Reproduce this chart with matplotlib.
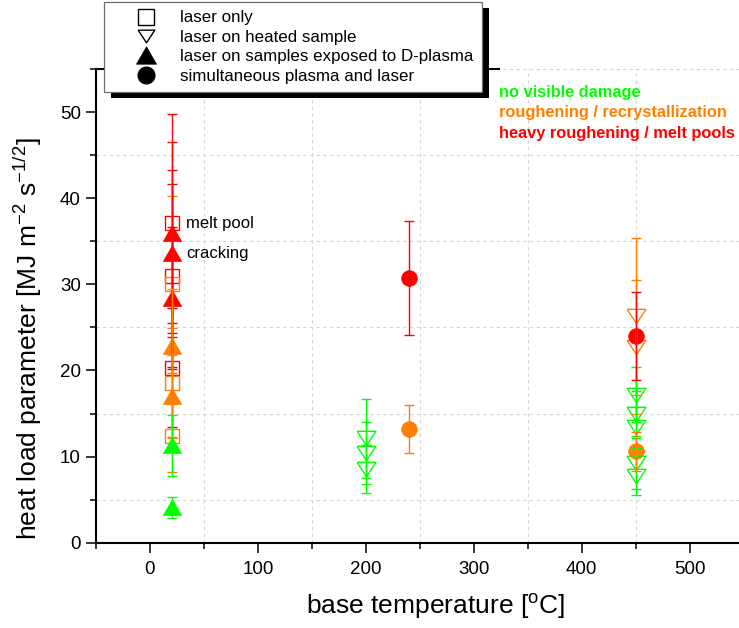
import matplotlib
matplotlib.use("Agg")
import matplotlib.pyplot as plt
from matplotlib.lines import Line2D
from matplotlib.patches import Rectangle
from matplotlib.ticker import MultipleLocator

plt.rcParams['font.family'] = ['Liberation Sans', 'DejaVu Sans']
plt.rcParams['mathtext.fontset'] = 'custom'
plt.rcParams['mathtext.rm'] = 'Liberation Sans'
plt.rcParams['mathtext.it'] = 'Liberation Sans:italic'
plt.rcParams['mathtext.default'] = 'regular'

# damage class -> colour
DAMAGE_COLORS = {'none': '#00ff00', 'rough': '#ff8000', 'heavy': '#ff0000'}
DAMAGE_LABELS = ['no visible damage', 'roughening / recrystallization',
                 'heavy roughening / melt pools']

# laser only
laser_T = [20, 20, 20, 20, 20, 20]
laser_load = [37.1, 31.0, 30.0, 20.3, 18.6, 12.4]
laser_err = [12.7, 10.6, 10.3, 6.9, 6.3, 4.2]
laser_cls = ['heavy', 'heavy', 'rough', 'heavy', 'rough', 'rough']

# laser on heated sample
heated_T = [200, 200, 200, 450, 450, 450, 450, 450, 450, 450]
heated_load = [12.1, 10.4, 8.6, 26.3, 22.7, 17.2, 15.0, 13.4, 9.2, 7.8]
heated_err = [4.6, 3.6, 2.8, 9.1, 7.8, 3.2, 2.6, 2.4, 3.0, 2.3]
heated_cls = ['none', 'none', 'none', 'rough', 'rough',
              'none', 'none', 'none', 'none', 'none']

# laser on samples exposed to D-plasma
plasma_T = [20, 20, 20, 20, 20, 20, 20]
plasma_load = [36.0, 33.6, 28.4, 22.8, 17.0, 11.3, 4.1]
plasma_err = [10.5, 9.7, 8.2, 6.7, 4.8, 3.5, 1.2]
plasma_cls = ['heavy', 'heavy', 'heavy', 'rough', 'rough', 'none', 'none']

# simultaneous plasma and laser
simul_T = [240, 240, 450, 450]
simul_load = [30.7, 13.2, 24.0, 10.6]
simul_err = [6.6, 2.75, 5.1, 2.3]
simul_cls = ['heavy', 'rough', 'heavy', 'rough']

# annotations next to individual points
notes = [('melt pool', 20, 37.1), ('cracking', 20, 33.6)]

LEGEND_LABELS = ['laser only', 'laser on heated sample',
                 'laser on samples exposed to D-plasma',
                 'simultaneous plasma and laser']

# wide, flat triangles
UP_TRI = [(-1, -0.87), (1, -0.87), (0, 0.87), (-1, -0.87)]
DOWN_TRI = [(-1, 0.76), (1, 0.76), (0, -0.76), (-1, 0.76)]

W, H, DPI = 739, 628, 100
fig = plt.figure(figsize=(W / DPI, H / DPI), dpi=DPI)
ax = fig.add_axes([96 / W, 85.3 / H, 647.6 / W, 473.7 / H])

series = [
    (laser_T, laser_load, laser_err, laser_cls, 's', 10.3, False),
    (heated_T, heated_load, heated_err, heated_cls, DOWN_TRI, 13.6, False),
    (plasma_T, plasma_load, plasma_err, plasma_cls, UP_TRI, 13.2, True),
    (simul_T, simul_load, simul_err, simul_cls, 'o', 11.3, True),
]

for xs, ys, es, cls, marker, ms, filled in series:
    for x, y, e, c in zip(xs, ys, es, cls):
        col = DAMAGE_COLORS[c]
        ax.plot([x], [y], linestyle='none', marker=marker, markersize=ms,
                markerfacecolor=col if filled else 'none',
                markeredgecolor=col, markeredgewidth=1.0 if not filled else 0.5,
                zorder=2)
        ax.errorbar([x], [y], yerr=[e], fmt='none', ecolor=col,
                    elinewidth=1.0, capsize=3.6, capthick=1.0, zorder=3)

for txt, x, y in notes:
    ax.text(x + 13.4, y, txt, fontsize=12, va='center', ha='left')

for i, (key, lab) in enumerate(zip(['none', 'rough', 'heavy'], DAMAGE_LABELS)):
    ax.text(323.4, 52.3 - 2.4 * i, lab, color=DAMAGE_COLORS[key],
            fontsize=11.8, fontweight='bold', va='center', ha='left')

ax.set_xlim(-50, 550)
ax.set_ylim(0, 55)
ax.xaxis.set_major_locator(MultipleLocator(100))
ax.xaxis.set_minor_locator(MultipleLocator(50))
ax.yaxis.set_major_locator(MultipleLocator(10))
ax.yaxis.set_minor_locator(MultipleLocator(5))
ax.grid(which='minor', linestyle=(0, (3, 3)), color='#d4d4d4', linewidth=0.8)
ax.grid(which='major', visible=False)
ax.set_axisbelow(True)

for side in ('top', 'right'):
    ax.spines[side].set_visible(False)
for side in ('left', 'bottom'):
    ax.spines[side].set_linewidth(1.5)

# short top frame line running from the y axis to behind the legend
ax.plot([-50, 324], [55, 55], color='black', linewidth=1.5,
        clip_on=False, zorder=1, solid_capstyle='butt')

ax.tick_params(which='major', direction='out', length=7, width=1.1,
               labelsize=13.5)
ax.tick_params(axis='x', which='major', pad=6)
ax.tick_params(axis='y', which='major', pad=4)
ax.tick_params(which='minor', direction='out', length=4, width=1.1)

ax.set_xlabel('base temperature [$^{o}$C]', fontsize=19)
ax.set_ylabel('heat load parameter [MJ m$^{-2}$ s$^{-1/2}$]', fontsize=19)
ax.xaxis.set_label_coords(0.524, -0.104)
ax.yaxis.set_label_coords(-0.08, 0.43)

handles = [
    Line2D([], [], ls='none', marker='s', ms=12, mfc='none', mec='black', mew=1.0),
    Line2D([], [], ls='none', marker=DOWN_TRI, ms=12, mfc='none', mec='black', mew=1.0),
    Line2D([], [], ls='none', marker=UP_TRI, ms=14.4, mfc='black', mec='black', mew=0.5),
    Line2D([], [], ls='none', marker='o', ms=12, mfc='black', mec='black'),
]
leg = fig.legend(handles, LEGEND_LABELS, loc='upper left',
                 bbox_to_anchor=(104 / W, 1 - 2 / H), fontsize=12.2,
                 frameon=True, fancybox=False, framealpha=1.0,
                 facecolor='white', borderpad=0.5,
                 handlelength=3.9, handletextpad=0.1, labelspacing=0.26,
                 borderaxespad=0)
leg.get_frame().set_edgecolor('#707070')
leg.get_frame().set_linewidth(0.9)
leg.set_zorder(5)

fig.canvas.draw()
bb = leg.get_frame().get_window_extent()
shadow = Rectangle((bb.x0 + 7, bb.y0 - 6), bb.width, bb.height,
                   transform=None, facecolor='black', edgecolor='none',
                   zorder=4)
fig.patches.append(shadow)

fig.savefig('out.png', dpi=DPI)
